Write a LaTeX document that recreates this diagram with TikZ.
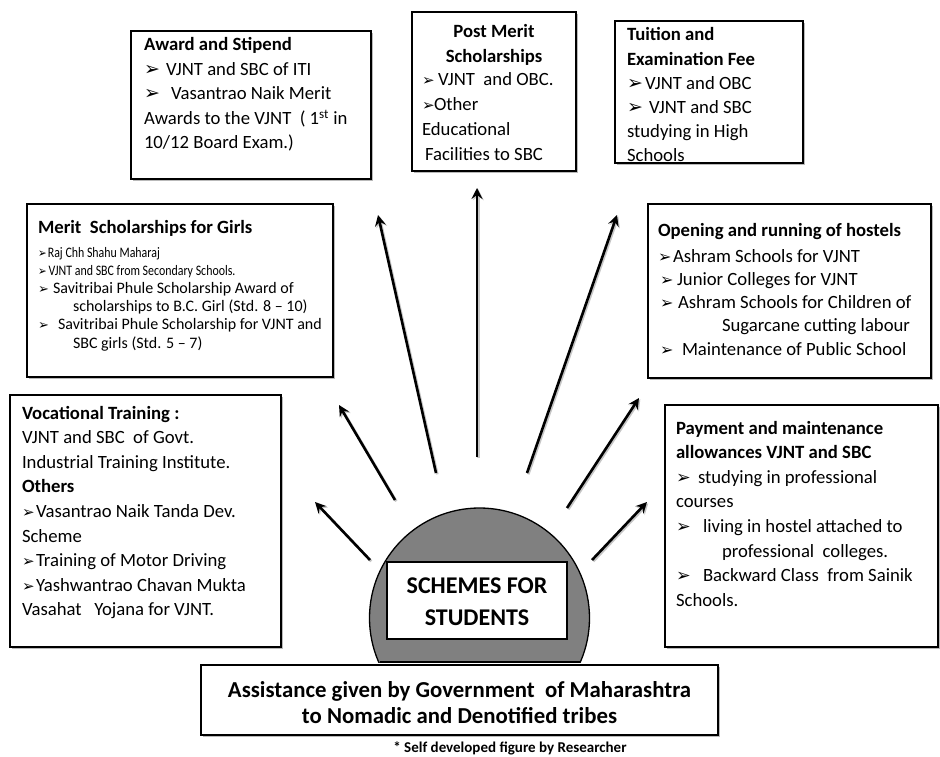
\documentclass[tikz,border=0pt]{standalone}
\usepackage{fontspec}
\setmainfont{Carlito}
\newfontfamily\dvfont{DejaVu Sans}
\usetikzlibrary{arrows.meta,shadows}
\newcommand{\bl}[2][19]{\makebox[#2][l]{\fontsize{#1}{#1}\dvfont ➢}}
\newcommand{\narrowline}[1]{\scalebox{0.82}[1]{\fontsize{14.5}{18.2}\selectfont #1}}
\begin{document}
\begin{tikzpicture}[x=1pt,y=-1pt,
  every node/.style={inner sep=0pt,outer sep=0pt},
  box/.style={draw=black,line width=1.5pt,fill=white,anchor=north west,
    drop shadow={shadow xshift=2pt,shadow yshift=-2pt,fill=gray!55,opacity=1}},
  body/.style={anchor=base west,align=flush left,text width=300pt,
    font=\fontsize{18.7}{24.5}\selectfont},
  ctext/.style={anchor=base,align=flush center},
  arr/.style={line width=2.6pt,-{Stealth[length=11pt,width=11pt,inset=4pt]}},
  arrshadow/.style={line width=2.6pt,draw=gray!45,-{Stealth[length=11pt,width=11pt,inset=4pt]}}]
\fill[white] (0,0) rectangle (940,757);
\useasboundingbox (0,0) rectangle (940,757);

% arrows
\coordinate (ta) at (370,560); \coordinate (ha) at (315,502);
\coordinate (tb) at (395,500); \coordinate (hb) at (339,405);
\coordinate (tc) at (436,473); \coordinate (hc) at (378,215);
\coordinate (td) at (477,457); \coordinate (hd) at (477,188);
\coordinate (te) at (527,473); \coordinate (he) at (617,215);
\coordinate (tf) at (567,508); \coordinate (hf) at (639,398);
\coordinate (tg) at (592,560); \coordinate (hg) at (647,502);
\foreach \a/\b in {ta/ha,tb/hb,tc/hc,td/hd,te/he,tf/hf,tg/hg}{
  \draw[arrshadow] ([shift={(1.3,1.3)}]\a) -- ([shift={(1.3,1.3)}]\b);
  \draw[arr] (\a) -- (\b);
}

% disc
\begin{scope}
  \clip (340,480) rectangle (620,662);
  \fill[gray] (479.5,618) circle[radius=110pt];
  \draw[line width=1.3pt] (479.5,618) circle[radius=110pt];
\end{scope}
\coordinate (dl) at (379.5,662); \coordinate (dr) at (579.5,662);
\draw[line width=1.3pt] (dl) -- (dr);
\node[draw,line width=1.5pt,fill=white,anchor=north west,minimum width=180pt,minimum height=77pt] (schemes) at (387,562) {};
\node[ctext,text width=178pt,font=\bfseries\fontsize{24}{32}\selectfont] (schemestxt) at (477,593) {SCHEMES FOR\\STUDENTS};

% Award and Stipend
\node[box,minimum width=240pt,minimum height=148pt] (award) at (131,31) {};
\node[body] (awardtxt) at (144,51) {\textbf{Award and Stipend}\\
\bl{22pt}VJNT and SBC of ITI\\
\bl{27pt}Vasantrao Naik Merit\\
Awards to the VJNT~ ( 1\textsuperscript{st} in\\
10/12 Board Exam.)};

% Post Merit
\node[box,minimum width=164pt,minimum height=159pt] (post) at (412,12) {};
\node[ctext,text width=160pt,font=\bfseries\fontsize{18.7}{24.5}\selectfont] (posttitle) at (494,38) {Post Merit\\Scholarships};
\node[body,font=\fontsize{18.7}{25}\selectfont] (posttxt) at (422,86) {\bl[15]{16pt}VJNT~ and OBC.\\
\bl[15]{12pt}Other\\
Educational\\
\hspace*{3pt}Facilities to SBC};

% Tuition
\node[box,minimum width=188pt,minimum height=142pt] (tuition) at (615,21) {};
\node[body,font=\fontsize{18.7}{24.2}\selectfont] (tuitiontxt) at (627,41) {\textbf{Tuition and}\\
\textbf{Examination Fee}\\
\bl{18pt}VJNT and OBC\\
\bl{22pt}VJNT and SBC\\
studying in High\\
Schools};

% Merit Scholarships for Girls
\node[box,minimum width=306pt,minimum height=173pt] (girls) at (27,204) {};
\node[body] (girlstitle) at (38,233) {\textbf{Merit~ Scholarships for Girls}};
\node[body,font=\fontsize{16}{18.2}\selectfont] (girlstxt) at (38,257) {\narrowline{\bl[12.5]{12pt}Raj Chh Shahu Maharaj}\\
\narrowline{\bl[12.5]{13pt}VJNT and SBC from Secondary Schools.}\\
\bl[13]{15pt}Savitribai Phule Scholarship Award of\\
\hspace*{35pt}scholarships to B.C. Girl (Std. 8 – 10)\\
\bl[13]{20pt}Savitribai Phule Scholarship for VJNT and\\
\hspace*{35pt}SBC girls (Std. 5 – 7)};

% Opening and running of hostels
\node[box,minimum width=283pt,minimum height=174pt] (hostels) at (648,204) {};
\node[body] (hosteltitle) at (658,236) {\textbf{Opening and running of hostels}};
\node[body,font=\fontsize{18.7}{23.3}\selectfont] (hosteltxt) at (658,262) {\bl[16]{15pt}Ashram Schools for VJNT\\
\hspace*{2pt}\bl[16]{17pt}Junior Colleges for VJNT\\
\hspace*{2pt}\bl[16]{18pt}Ashram Schools for Children of\\
\hspace*{64pt}Sugarcane cutting labour\\
\hspace*{2pt}\bl[16]{22pt}Maintenance of Public School};

% Vocational
\node[box,minimum width=271pt,minimum height=252pt] (voc) at (10,395) {};
\node[body,font=\fontsize{18.7}{24.6}\selectfont] (voctxt) at (22,419) {\textbf{Vocational Training :}\\
VJNT and SBC~ of Govt.\\
Industrial Training Institute.\\
\textbf{Others}\\
\bl[15]{14pt}Vasantrao Naik Tanda Dev.\\
Scheme\\
\bl[15]{14pt}Training of Motor Driving\\
\bl[15]{14pt}Yashwantrao Chavan Mukta\\
Vasahat~~ Yojana for VJNT.};

% Payment
\node[box,minimum width=273pt,minimum height=242pt] (pay) at (665,405) {};
\node[body,font=\fontsize{18.7}{24.6}\selectfont] (paytxt) at (676,434) {\textbf{Payment and maintenance}\\
\textbf{allowances VJNT and SBC}\\
\bl[17.5]{22pt}studying in professional\\
courses\\
\bl[17.5]{27pt}living in hostel attached to\\
\hspace*{46pt}professional~ colleges.\\
\bl[17.5]{27pt}Backward Class~ from Sainik\\
Schools.};

% Bottom
\node[box,minimum width=517pt,minimum height=70pt] (assist) at (201,665) {};
\node[ctext,text width=515pt,font=\bfseries\fontsize{22.8}{26}\selectfont] (assisttxt) at (459.5,697) {Assistance given by Government~ of Maharashtra\\to Nomadic and Denotified tribes};
\node[anchor=base,font=\bfseries\fontsize{15}{18}\selectfont] (note) at (510,752.5) {* Self developed figure by Researcher};
\end{tikzpicture}
\end{document}
